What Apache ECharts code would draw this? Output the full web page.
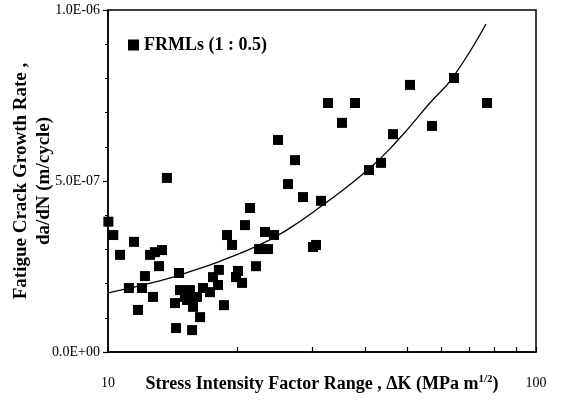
<!DOCTYPE html>
<html>
<head>
<meta charset="utf-8">
<script src="https://cdn.jsdelivr.net/npm/echarts@6/dist/echarts.min.js"></script>
<style>
html,body{margin:0;padding:0;background:#fff;}
#chart{width:562px;height:407px;}
</style>
</head>
<body>
<div id="chart"></div>
<script>
// Stress intensity factor range (MPa m^1/2) and growth rate (m/cycle)
var deltaK = [10.02,10.29,10.67,11.50,12.54,12.87,13.37,13.16,13.73,11.19,
  11.75,12.20,12.01,12.74,14.65,14.42,15.72,14.34,14.73,15.13,
  15.54,15.30,15.80,16.41,16.14,16.67,17.31,18.07,17.59,18.16,
  18.66,18.97,19.49,20.12,19.91,20.57,20.90,21.47,22.17,22.53,
  23.65,23.27,24.43,24.96,27.35,26.34,28.55,31.45,30.13,30.62,
  32.66,37.77,35.22,50.77,64.34,76.83,57.15,46.34,43.45,40.72];
var dadN = [3.81e-7,3.42e-7,2.84e-7,3.22e-7,2.84e-7,2.92e-7,2.98e-7,2.51e-7,5.09e-7,1.87e-7,
  1.23e-7,2.22e-7,1.87e-7,1.61e-7,2.31e-7,7.0e-8,6.4e-8,1.43e-7,1.81e-7,1.61e-7,
  1.81e-7,1.52e-7,1.32e-7,1.02e-7,1.61e-7,1.87e-7,1.75e-7,1.96e-7,2.19e-7,2.40e-7,
  1.37e-7,3.42e-7,3.13e-7,2.37e-7,2.19e-7,2.02e-7,3.71e-7,4.21e-7,2.51e-7,3.01e-7,
  3.01e-7,3.51e-7,3.42e-7,6.20e-7,5.61e-7,4.91e-7,4.53e-7,4.42e-7,3.07e-7,3.13e-7,
  7.28e-7,7.28e-7,6.70e-7,7.81e-7,8.01e-7,7.28e-7,6.61e-7,6.37e-7,5.53e-7,5.32e-7];
// Trend curve
var trendK = [10,13.2,16.0,18.3,22.6,26.2,31.3,40.7,47.6,56.5,64.0,76.4];
var trendRate = [1.73e-7,2.08e-7,2.40e-7,2.66e-7,3.13e-7,3.57e-7,4.24e-7,5.35e-7,6.20e-7,7.28e-7,8.04e-7,9.59e-7];
var xTicks = [10,20,30,40,50,60,70,80,90,100];
var xLabels = [10,100];
var yTicks = [0,5e-7,1e-6];
var seriesName = 'FRMLs (1 : 0.5)';

function fmtE(v){
  if (v === 0) return '0.0E+00';
  var e = Math.floor(Math.log10(Math.abs(v)) + 1e-9);
  var m = v / Math.pow(10, e);
  var s = e < 0 ? '-' : '+';
  var ae = Math.abs(e);
  return m.toFixed(1) + 'E' + s + (ae < 10 ? '0' + ae : ae);
}

var pts = deltaK.map(function(k,i){ return [k, dadN[i]]; });
var trend = trendK.map(function(k,i){ return [k, trendRate[i]]; });
var serif = '"Liberation Serif", "DejaVu Serif", serif';

var chart = echarts.init(document.getElementById('chart'), null, {renderer:'canvas'});
chart.setOption({
  backgroundColor: '#fff',
  animation: false,
  grid: {left:108, right:26, top:10, bottom:55, show:true, borderColor:'#000', borderWidth:1.5},
  legend: {
    show: true, data: [seriesName], left: 123, top: 31,
    itemWidth: 11, itemHeight: 11, itemGap: 5, icon: 'rect',
    textStyle: {fontFamily: serif, fontWeight: 'bold', fontSize: 18, color: '#000'}
  },
  xAxis: {
    type: 'log', logBase: 10, min: 10, max: 100,
    name: '{b|Stress Intensity Factor Range , \u0394K (MPa m}{s|1/2}{b|)}',
    nameLocation: 'middle', nameGap: 22, nameMoveOverlap: false,
    nameTextStyle: {
      rich: {
        b: {fontFamily: serif, fontWeight:'bold', fontSize:18, color:'#000'},
        s: {fontFamily: serif, fontWeight:'bold', fontSize:11, color:'#000', verticalAlign:'top', padding:[0,0,9,0]}
      }
    },
    axisLine: {lineStyle: {color:'#000', width:1.5}},
    axisTick: {show:true, inside:true, length:5, customValues: xTicks, lineStyle:{color:'#000', width:1.2}},
    minorTick: {show:false},
    splitLine: {show:false},
    axisLabel: {margin: 24, fontFamily: serif, fontSize: 14, color:'#000', customValues: xLabels,
      formatter: function(v){ return String(Math.round(v)); }}
  },
  yAxis: {
    type: 'value', min: 0, max: 1e-6, interval: 5e-7,
    name: 'Fatigue Crack Growth Rate ,\nda/dN (m/cycle)',
    nameLocation: 'middle', nameGap: 52, nameRotate: 90, nameMoveOverlap: false,
    nameTextStyle: {fontFamily: serif, fontWeight:'bold', fontSize:19, lineHeight:23, color:'#000'},
    axisLine: {show:true, lineStyle: {color:'#000', width:1.5}},
    axisTick: {show:true, length:5, lineStyle:{color:'#000', width:1.2}},
    minorTick: {show:true, splitNumber:5, length:3, lineStyle:{color:'#000', width:1}},
    splitLine: {show:false},
    axisLabel: {margin: 8, fontFamily: serif, fontSize: 14, color:'#000', formatter: fmtE}
  },
  series: [
    {
      name: seriesName, type: 'scatter', data: pts,
      symbol: 'rect', symbolSize: 10,
      itemStyle: {color:'#000', opacity: 1}, z: 3
    },
    {
      name: 'trend', type: 'line', data: trend, smooth: true,
      showSymbol: false, symbol: 'none',
      lineStyle: {color:'#000', width:1.3}, z: 2
    }
  ]
});
</script>
</body>
</html>
